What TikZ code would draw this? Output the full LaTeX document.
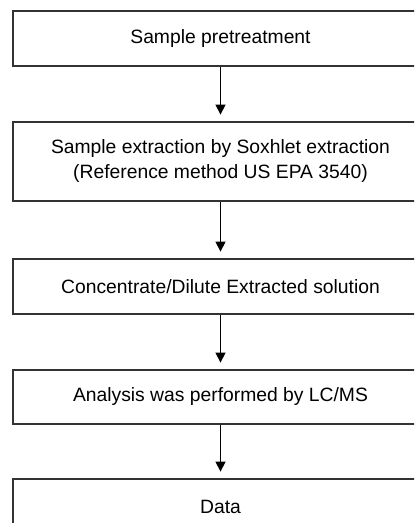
\documentclass[tikz,border=0pt]{standalone}
\usepackage{fontspec}
\setmainfont{Liberation Sans}
\usetikzlibrary{arrows.meta}
\begin{document}
\begin{tikzpicture}[x=1bp,y=-1bp,
  stepbox/.style={draw=black!80, line width=1.8bp, rectangle, inner sep=0pt,
    minimum width=415bp, align=center, text=black,
    font=\fontsize{19.3bp}{25bp}\selectfont},
  arr/.style={draw=black, line width=1.3bp, shorten >=6.5bp,
    -{Triangle[length=10bp,width=10bp]}}]
\clip (0,0) rectangle (414,523);
\fill[white] (0,0) rectangle (414,523);
\node[stepbox, minimum height=55bp] (b1) at (220.5,38.5) {Sample pretreatment};
\node[stepbox, minimum height=79bp] (b2) at (220.5,161.5) {Sample extraction by Soxhlet extraction\\(Reference method US EPA 3540)};
\node[stepbox, minimum height=55bp] (b3) at (220.5,286.5) {Concentrate/Dilute Extracted solution};
\node[stepbox, minimum height=54bp] (b4) at (220.5,397) {Analysis was performed by LC/MS};
\node[stepbox, minimum height=55bp] (b5) at (220.5,506.5) {Data};
\draw[arr] (b1.south) -- (b2.north);
\draw[arr] (b2.south) -- (b3.north);
\draw[arr] (b3.south) -- (b4.north);
\draw[arr] (b4.south) -- (b5.north);
\end{tikzpicture}
\end{document}
